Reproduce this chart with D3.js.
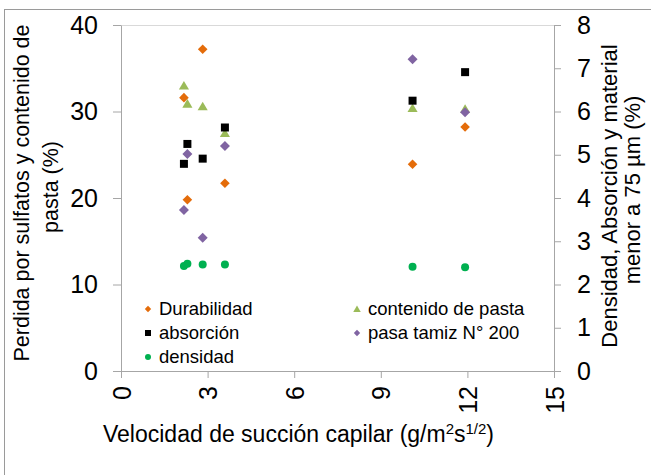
<!DOCTYPE html>
<html>
<head>
<meta charset="utf-8">
<script src="https://cdn.jsdelivr.net/npm/d3@7/dist/d3.min.js"></script>
<style>
  html, body { margin: 0; padding: 0; background: #fff; }
  svg text { font-family: "Liberation Sans", Arial, sans-serif; fill: #000; }
</style>
</head>
<body>
<svg id="chart" width="651" height="475"></svg>
<script>
// Capillary suction rate (x) shared by every series
const succion = [2.18, 2.30, 2.83, 3.60, 10.10, 11.92];

// Left axis series (%)
const durabilidad = [31.6, 19.8, 37.2, 21.7, 23.9, 28.2];
const contenidoPasta = [33.0, 30.9, 30.6, 27.5, 30.4, 30.3];

// Right axis series
const absorcion = [4.79, 5.25, 4.91, 5.63, 6.25, 6.91];
const pasaTamiz = [3.72, 5.02, 3.08, 5.20, 7.21, 5.98];
const densidad = [2.43, 2.48, 2.46, 2.46, 2.41, 2.40];

// Tick values
const xTicks = [0, 3, 6, 9, 12, 15];
const yLeftTicks = [0, 10, 20, 30, 40];
const yRightTicks = [0, 1, 2, 3, 4, 5, 6, 7, 8];

const svg = d3.select("#chart");

const x = d3.scaleLinear().domain([0, 15]).range([121, 554]);
const yL = d3.scaleLinear().domain([0, 40]).range([371, 25]);
const yR = d3.scaleLinear().domain([0, 8]).range([371, 25]);

const axisColor = "#a6a6a6";

// Outer chart frame
svg.append("rect")
  .attr("x", 4.5).attr("y", 9.5)
  .attr("width", 700).attr("height", 500)
  .attr("fill", "none").attr("stroke", "#9a9a9a");

// Plot-area top edge
svg.append("line")
  .attr("x1", x(0)).attr("x2", x(15))
  .attr("y1", 25.5).attr("y2", 25.5)
  .attr("stroke", "#d9d9d9");

function styleAxis(g) {
  g.select(".domain").attr("stroke", axisColor);
  g.selectAll(".tick line").attr("stroke", axisColor);
  g.selectAll(".tick text")
    .attr("font-size", 25)
    .attr("font-family", "Liberation Sans, Arial, sans-serif")
    .attr("fill", "#000");
}

// Left axis
const gL = svg.append("g")
  .attr("transform", `translate(${x(0)},0)`)
  .call(d3.axisLeft(yL).tickValues(yLeftTicks).tickSize(8).tickSizeOuter(0).tickPadding(15));
styleAxis(gL);

// Right axis
const gR = svg.append("g")
  .attr("transform", `translate(${x(15)},0)`)
  .call(d3.axisRight(yR).tickValues(yRightTicks).tickSize(7).tickSizeOuter(0).tickPadding(16));
styleAxis(gR);

// Bottom axis with rotated labels
const gB = svg.append("g")
  .attr("transform", `translate(0,${yL(0)})`)
  .call(d3.axisBottom(x).tickValues(xTicks).tickSize(7).tickSizeOuter(0));
styleAxis(gB);
gB.selectAll(".tick text")
  .attr("text-anchor", "end")
  .attr("transform", "translate(0,15) rotate(-90)")
  .attr("x", 0).attr("y", 0).attr("dy", "0.36em");

// Marker shapes
const circlePath = r => { const p = d3.path(); p.arc(0, 0, r, 0, 2 * Math.PI); p.closePath(); return p.toString(); };
const shapes = {
  diamond: r => `M0,${-r}L${r},0L0,${r}L${-r},0Z`,
  square: r => `M${-r},${-r}H${r}V${r}H${-r}Z`,
  triangle: r => `M0,${-r}L${r * 1.1},${r * 0.85}L${-r * 1.1},${r * 0.85}Z`,
  circle: circlePath
};

const series = [
  { name: "Durabilidad", values: durabilidad, scale: yL, shape: "diamond", color: "#e46c0a", r: 4.8, lr: 3.2 },
  { name: "contenido de pasta", values: contenidoPasta, scale: yL, shape: "triangle", color: "#9bbb59", r: 4.6, lr: 3.4 },
  { name: "absorción", values: absorcion, scale: yR, shape: "square", color: "#000000", r: 4, lr: 3 },
  { name: "pasa tamiz N° 200", values: pasaTamiz, scale: yR, shape: "diamond", color: "#8064a2", r: 5, lr: 3.2 },
  { name: "densidad", values: densidad, scale: yR, shape: "circle", color: "#00b050", r: 4, lr: 3 }
];

// Left-axis series first, right-axis series on top
series.forEach(s => {
  svg.append("g").selectAll("path")
    .data(succion.map((v, i) => [v, s.values[i]]))
    .join("path")
    .attr("d", shapes[s.shape](s.r))
    .attr("transform", d => `translate(${x(d[0])},${s.scale(d[1])})`)
    .attr("fill", s.color);
});

// Legend
const legendItems = [
  { s: series[0], x: 148, y: 309 },
  { s: series[2], x: 148, y: 333 },
  { s: series[4], x: 148, y: 357 },
  { s: series[1], x: 357, y: 309 },
  { s: series[3], x: 357, y: 333 }
];
const lg = svg.append("g");
legendItems.forEach(it => {
  lg.append("path")
    .attr("d", shapes[it.s.shape](it.s.lr))
    .attr("transform", `translate(${it.x},${it.y})`)
    .attr("fill", it.s.color);
  lg.append("text")
    .attr("x", it.x + 11).attr("y", it.y)
    .attr("dy", "0.35em")
    .attr("font-size", 18.5)
    .text(it.s.name);
});

// Axis titles
const leftTitle1 = svg.append("text")
  .attr("transform", "translate(29,193) rotate(-90)")
  .attr("text-anchor", "middle")
  .attr("font-size", 21.5)
  .text("Perdida por sulfatos y contenido de");
const leftTitle2 = svg.append("text")
  .attr("transform", "translate(58,187) rotate(-90)")
  .attr("text-anchor", "middle")
  .attr("font-size", 21.5)
  .text("pasta (%)");

const rightTitle1 = svg.append("text")
  .attr("transform", "translate(617,196) rotate(-90)")
  .attr("text-anchor", "middle")
  .attr("font-size", 22)
  .text("Densidad, Absorción y material");
const rightTitle2 = svg.append("text")
  .attr("transform", "translate(640,190) rotate(-90)")
  .attr("text-anchor", "middle")
  .attr("font-size", 22)
  .text("menor a 75 µm (%)");

const xTitle = svg.append("text")
  .attr("x", 103).attr("y", 442)
  .attr("font-size", 23);
xTitle.append("tspan").text("Velocidad de succión capilar (g/m");
xTitle.append("tspan").attr("font-size", 15).attr("dy", -8).text("2");
xTitle.append("tspan").attr("dy", 8).text("s");
xTitle.append("tspan").attr("font-size", 15).attr("dy", -8).text("1/2");
xTitle.append("tspan").attr("dy", 8).text(")");
</script>
</body>
</html>
